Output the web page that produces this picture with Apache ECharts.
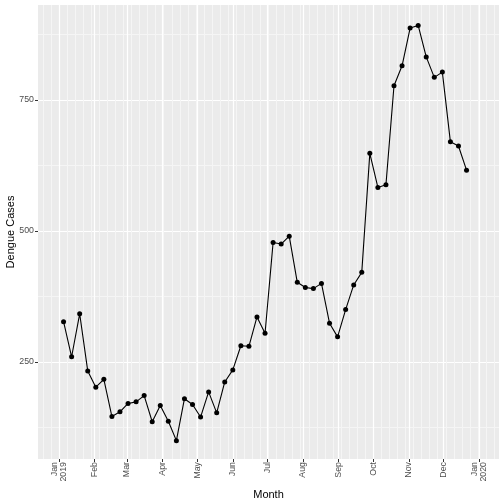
<!DOCTYPE html>
<html>
<head>
<meta charset="utf-8">
<script src="https://cdn.jsdelivr.net/npm/echarts@6/dist/echarts.min.js"></script>
<style>html,body{margin:0;padding:0;background:#fff}#c{width:504px;height:504px}</style>
</head>
<body>
<div id="c"></div>
<script>
// ---- data ----
const weeks = [
  '2019-01-05','2019-01-12','2019-01-19','2019-01-26',
  '2019-02-02','2019-02-09','2019-02-16','2019-02-23',
  '2019-03-02','2019-03-09','2019-03-16','2019-03-23','2019-03-30',
  '2019-04-06','2019-04-13','2019-04-20','2019-04-27',
  '2019-05-04','2019-05-11','2019-05-18','2019-05-25',
  '2019-06-01','2019-06-08','2019-06-15','2019-06-22','2019-06-29',
  '2019-07-06','2019-07-13','2019-07-20','2019-07-27',
  '2019-08-03','2019-08-10','2019-08-17','2019-08-24','2019-08-31',
  '2019-09-07','2019-09-14','2019-09-21','2019-09-28',
  '2019-10-05','2019-10-12','2019-10-19','2019-10-26',
  '2019-11-02','2019-11-09','2019-11-16','2019-11-23','2019-11-30',
  '2019-12-07','2019-12-14','2019-12-21'
];
const cases = [
  327, 260, 342, 233,
  202, 217, 146, 155,
  171, 174, 186, 136, 167,
  137, 100, 180, 169,
  145, 193, 153, 212,
  235, 281, 280, 336, 305,
  478, 475, 490, 402,
  392, 390, 400, 324, 298,
  350, 397, 421, 648,
  583, 588, 777, 815,
  887, 892, 832, 793, 803,
  670, 662, 616
];
const monthTicks = [
  '2019-01-01','2019-02-01','2019-03-01','2019-04-01','2019-05-01','2019-06-01',
  '2019-07-01','2019-08-01','2019-09-01','2019-10-01','2019-11-01','2019-12-01','2020-01-01'
];
const monthNames = ['Jan','Feb','Mar','Apr','May','Jun','Jul','Aug','Sep','Oct','Nov','Dec'];
const yMajorTicks = [250, 500, 750];
const yMinorTicks = [125, 375, 625, 875];

function toMs(s) {
  const p = s.split('-').map(Number);
  return Date.UTC(p[0], p[1] - 1, p[2]);
}
const DAY = 86400000;

// weekly minor grid breaks (styling only)
const minorWeeks = [];
for (let t = Date.UTC(2018, 11, 18); t <= Date.UTC(2020, 0, 18); t += 7 * DAY) minorWeeks.push(t);
const monthMs = monthTicks.map(toMs);

const xMin = Date.UTC(2019, 0, 1) - 18.2 * DAY;
const xMax = Date.UTC(2019, 11, 31) + 18.2 * DAY;
const yMin = 65, yMax = 931;
const FONT = '"Liberation Sans", Arial, sans-serif';

const chart = echarts.init(document.getElementById('c'), null, {renderer: 'canvas'});
chart.setOption({
  animation: false,
  backgroundColor: '#ffffff',
  textStyle: {fontFamily: FONT},
  grid: {left: 38, right: 5, top: 5, bottom: 45, show: true, backgroundColor: '#EBEBEB', borderWidth: 0,
         containLabel: false, outerBoundsMode: 'none'},
  xAxis: [
    {
      type: 'value', min: xMin, max: xMax, gridIndex: 0,
      axisLine: {show: false},
      axisTick: {show: false, customValues: minorWeeks},
      axisLabel: {show: false, customValues: minorWeeks},
      splitLine: {show: true, customValues: minorWeeks, lineStyle: {color: '#F5F5F5', width: 1}}
    },
    {
      type: 'value', min: xMin, max: xMax, gridIndex: 0, position: 'bottom',
      name: 'Month', nameLocation: 'middle', nameGap: 26,
      nameTextStyle: {fontSize: 11, color: '#000', fontFamily: FONT},
      axisLine: {show: false},
      axisTick: {show: true, length: 3, customValues: monthMs, lineStyle: {color: '#333333', width: 1}},
      axisLabel: {
        show: true, customValues: monthMs, rotate: 90, margin: 3,
        fontSize: 8.8, color: '#4D4D4D', fontFamily: FONT, lineHeight: 9.5,
        hideOverlap: false, showMinLabel: true, showMaxLabel: true,
        formatter: function (v) {
          const d = new Date(v);
          const m = monthNames[d.getUTCMonth()];
          return d.getUTCMonth() === 0 ? m + '\n' + d.getUTCFullYear() : m;
        }
      },
      splitLine: {show: true, customValues: monthMs, lineStyle: {color: '#FFFFFF', width: 1.2}}
    }
  ],
  yAxis: [
    {
      type: 'value', min: yMin, max: yMax, gridIndex: 0,
      axisLine: {show: false},
      axisTick: {show: false, customValues: yMinorTicks},
      axisLabel: {show: false, customValues: yMinorTicks},
      splitLine: {show: true, customValues: yMinorTicks, lineStyle: {color: '#F5F5F5', width: 1}}
    },
    {
      type: 'value', min: yMin, max: yMax, gridIndex: 0, position: 'left',
      name: 'Dengue Cases', nameLocation: 'middle', nameGap: 22, nameMoveOverlap: false,
      nameTextStyle: {fontSize: 11, color: '#000', fontFamily: FONT},
      axisLine: {show: false},
      axisTick: {show: true, length: 3, customValues: yMajorTicks, lineStyle: {color: '#333333', width: 1}},
      axisLabel: {show: true, customValues: yMajorTicks, margin: 4, fontSize: 8.8, color: '#4D4D4D', fontFamily: FONT},
      splitLine: {show: true, customValues: yMajorTicks, lineStyle: {color: '#FFFFFF', width: 1.2}}
    }
  ],
  series: [{
    type: 'line',
    xAxisIndex: 1, yAxisIndex: 1,
    data: weeks.map((w, i) => [toMs(w), cases[i]]),
    symbol: 'circle', symbolSize: 5,
    itemStyle: {color: '#000000'},
    lineStyle: {color: '#000000', width: 1.1},
    emphasis: {disabled: true}
  }]
});
</script>
</body>
</html>
